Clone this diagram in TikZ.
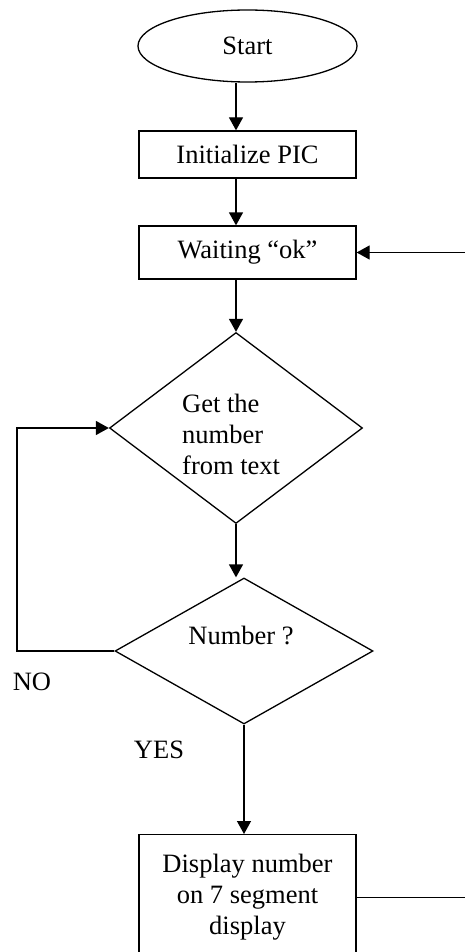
\documentclass[tikz,border=0pt]{standalone}
\usepackage{fontspec}
\setmainfont{Liberation Serif}
\usetikzlibrary{shapes.geometric,arrows.meta}
\begin{document}
\begin{tikzpicture}[x=1pt,y=-1pt,
  every node/.style={font=\fontsize{26.5}{31}\selectfont},
  line/.style={line width=1.3pt},
  arr/.style={line, -{Triangle[length=13pt,width=14pt]}},
  procbox/.style={draw, line width=1.3pt, rectangle, minimum width=217pt, inner sep=0pt, align=center},
  decide/.style={draw, line width=1.3pt, diamond, inner sep=0pt},
  txt/.style={inner sep=0pt, align=left}]
\useasboundingbox (0,0) rectangle (464,952);
\node[draw, line width=1.3pt, ellipse, minimum width=219pt, minimum height=72pt, inner sep=0pt] (start) at (247.5,46) {Start};
\node[procbox, minimum height=47pt] (init) at (247.5,154.5) {Initialize PIC};
\node[procbox, minimum height=53pt] (wait) at (247.5,252.5) {Waiting ``ok''};
\node[decide, minimum width=253pt, minimum height=191pt] (d1) at (236,428) {};
\node[txt, anchor=west] (t1) at (182,434) {Get the\\number\\from text};
\node[decide, minimum width=258pt, minimum height=146pt] (d2) at (244,651) {};
\node[txt] (t2) at (241,635) {Number ?};
\node[procbox, minimum height=126pt, anchor=north] (disp) at (247.5,834) {Display number\\on 7 segment\\display};
\node[txt] (no) at (32,682) {NO};
\node[txt] (yes) at (159,750) {YES};
\coordinate (xa) at (236,0);
\coordinate (lft) at (17,0);
\coordinate (rgt) at (480,0);
\draw[arr] (xa |- start.south) -- (xa |- init.north);
\draw[arr] (xa |- init.south) -- (xa |- wait.north);
\draw[arr] (xa |- wait.south) -- (d1.north);
\draw[arr] (d1.south) -- (xa |- d2.north);
\draw[arr] (d2.south) -- (d2.south |- disp.north);
\draw[arr] (d2.west) -- (lft |- d2.west) -- (lft |- d1.west) -- (d1.west);
\draw[arr] (disp.east) -- (rgt |- disp.east) -- (rgt |- wait.east) -- (wait.east);
\end{tikzpicture}
\end{document}
